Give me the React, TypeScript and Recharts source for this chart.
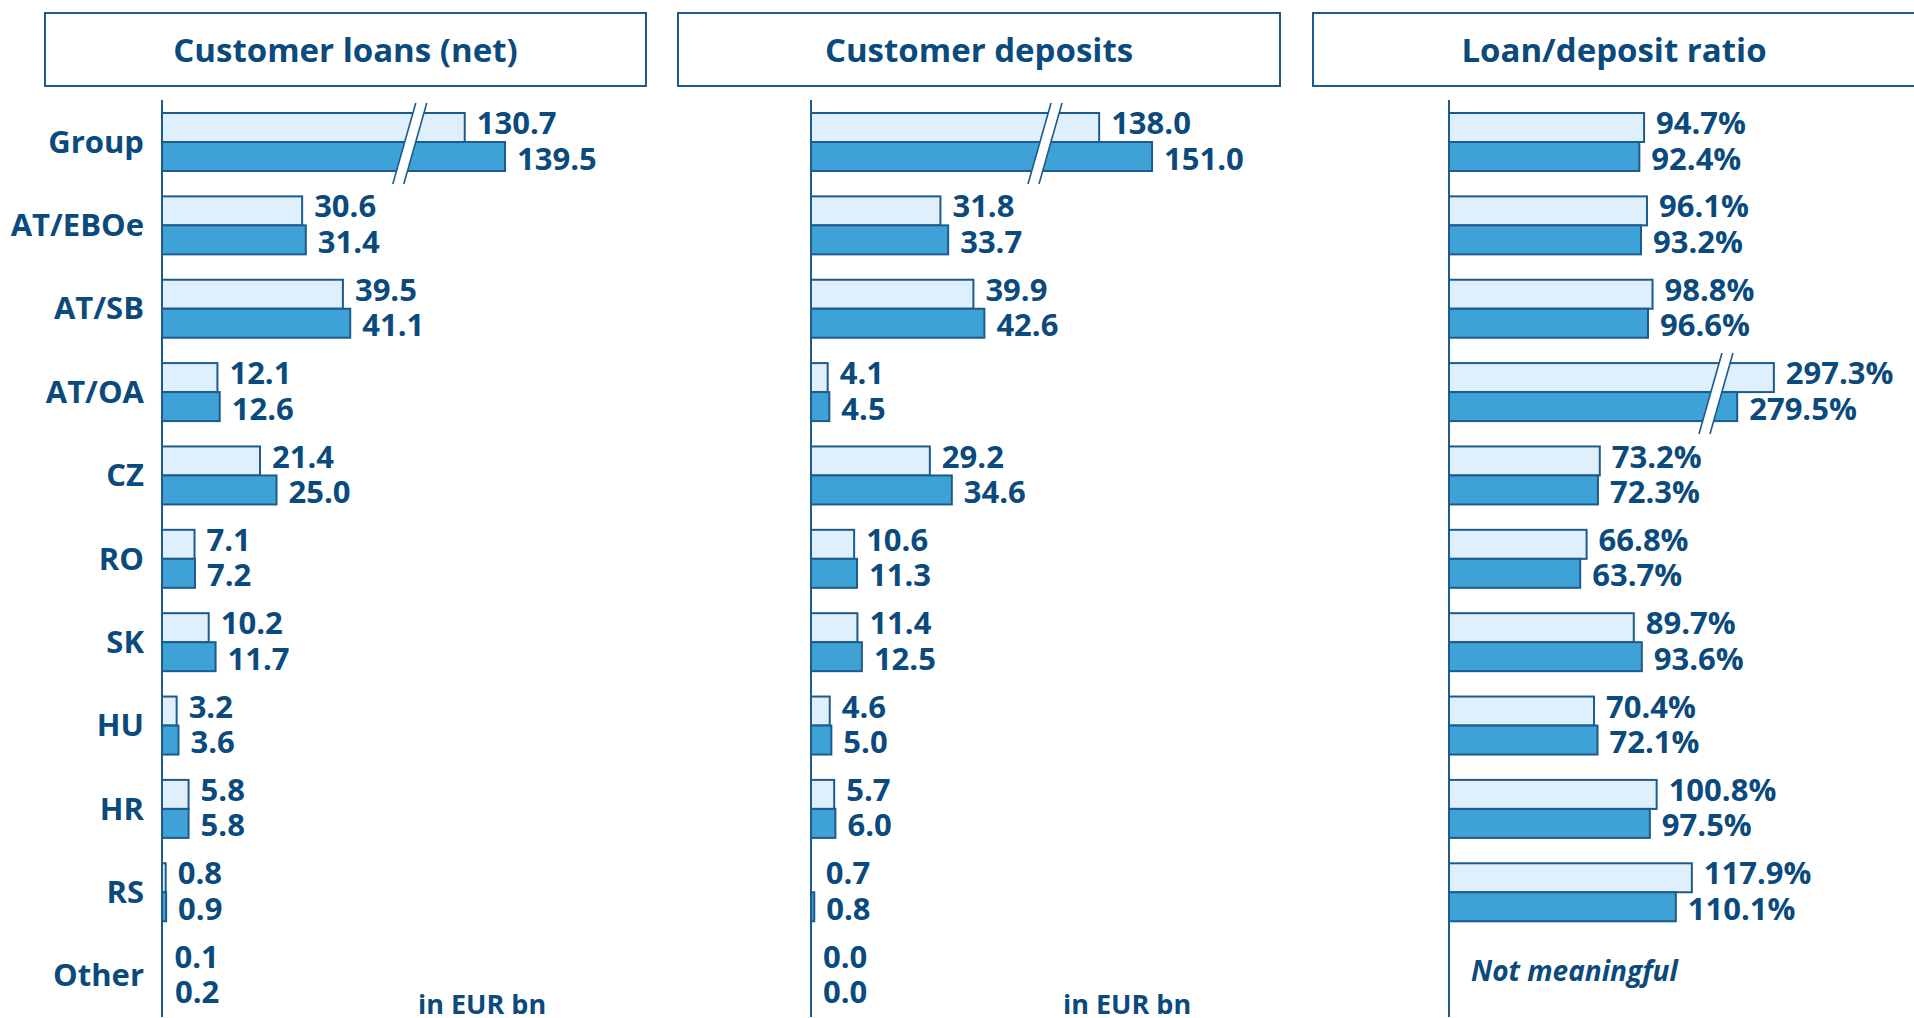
import React from 'react';
import { BarChart, Bar, XAxis, YAxis, LabelList, ReferenceLine } from 'recharts';

const categories = ['Group', 'AT/EBOe', 'AT/SB', 'AT/OA', 'CZ', 'RO', 'SK', 'HU', 'HR', 'RS', 'Other'];

const loansPrev = [130.7, 30.6, 39.5, 12.1, 21.4, 7.1, 10.2, 3.2, 5.8, 0.8, 0.1];
const loansCurr = [139.5, 31.4, 41.1, 12.6, 25.0, 7.2, 11.7, 3.6, 5.8, 0.9, 0.2];

const depositsPrev = [138.0, 31.8, 39.9, 4.1, 29.2, 10.6, 11.4, 4.6, 5.7, 0.7, 0.0];
const depositsCurr = [151.0, 33.7, 42.6, 4.5, 34.6, 11.3, 12.5, 5.0, 6.0, 0.8, 0.0];

const ratioPrev: (number | null)[] = [94.7, 96.1, 98.8, 297.3, 73.2, 66.8, 89.7, 70.4, 100.8, 117.9, null];
const ratioCurr: (number | null)[] = [92.4, 93.2, 96.6, 279.5, 72.3, 63.7, 93.6, 72.1, 97.5, 110.1, null];

const panelTitles = ['Customer loans (net)', 'Customer deposits', 'Loan/deposit ratio'];
const unitNote = 'in EUR bn';
const missingNote = 'Not meaningful';

const NAVY = '#0B4A7D';
const STROKE = '#1D5B8C';
const LIGHT = '#DFF0FC';
const DARK = '#3FA2D6';
const FONT = '"Open Sans", "Noto Sans", sans-serif';

type Row = {
  name: string;
  prev: number | null;
  curr: number | null;
  prevBar: number;
  currBar: number;
  broken: boolean;
};

const buildRows = (
  prev: (number | null)[],
  curr: (number | null)[],
  brokenCat: string,
  offset: number
): Row[] =>
  categories.map((name, i) => {
    const broken = name === brokenCat;
    const p = prev[i];
    const c = curr[i];
    return {
      name,
      prev: p,
      curr: c,
      prevBar: p == null ? 0 : broken ? p - offset : p,
      currBar: c == null ? 0 : broken ? c - offset : c,
      broken,
    };
  });

const loanRows = buildRows(loansPrev, loansCurr, 'Group', 64.6);
const depositRows = buildRows(depositsPrev, depositsCurr, 'Group', 67.2);
const ratioRows = buildRows(ratioPrev, ratioCurr, 'AT/OA', 139.6);

const makeShape = (breakAt: number | null, second: boolean) => (props: any) => {
  const { x, y, width, height, fill, payload } = props;
  if (!(width > 3)) return <g />;
  const rect = (
    <rect x={x} y={y} width={width} height={height} fill={fill} stroke={STROKE} strokeWidth={2} />
  );
  if (!second || !payload || !payload.broken || breakAt == null) return rect;
  const ppu = width / payload.currBar;
  const cx = x + breakAt * ppu;
  const top = y - height - 10;
  const bot = y + height + 13;
  const half = 11.5;
  const g = 5.5;
  const xt = cx + half;
  const xb = cx - half;
  return (
    <g>
      {rect}
      <polygon
        points={`${xt - g},${top} ${xt + g},${top} ${xb + g},${bot} ${xb - g},${bot}`}
        fill="#ffffff"
      />
      <line x1={xt - g} y1={top} x2={xb - g} y2={bot} stroke={STROKE} strokeWidth={1.6} />
      <line x1={xt + g} y1={top} x2={xb + g} y2={bot} stroke={STROKE} strokeWidth={1.6} />
    </g>
  );
};

const makeLabel = (rows: Row[], key: 'prev' | 'curr', dy: number, suffix: string) => (props: any) => {
  const vb = props.viewBox || {};
  const x = props.x ?? vb.x;
  const y = props.y ?? vb.y;
  const width = props.width ?? vb.width ?? 0;
  const height = props.height ?? vb.height ?? 0;
  const row = rows[props.index];
  if (!row) return null;
  const v = row[key];
  if (v == null) {
    if (key === 'curr') return null;
    return (
      <text
        x={x + 22}
        y={y + height / 2 + 10 + 0.357 * 28}
        fill={NAVY}
        fontFamily={FONT}
        fontWeight={700}
        fontStyle="italic"
        fontSize={28}
      >
        {missingNote}
      </text>
    );
  }
  return (
    <text
      x={x + width + 12}
      y={y + height / 2 + dy + 0.357 * 31}
      fill={NAVY}
      fontFamily={FONT}
      fontWeight={700}
      fontSize={31}
    >
      {v.toFixed(1) + suffix}
    </text>
  );
};

const CategoryTick = (props: any) => {
  const { x, y, payload } = props;
  return (
    <text
      x={x}
      y={y + 0.357 * 31}
      textAnchor="end"
      fill={NAVY}
      fontFamily={FONT}
      fontWeight={700}
      fontSize={31}
    >
      {payload.value}
    </text>
  );
};

type PanelProps = {
  rows: Row[];
  left: number;
  width: number;
  marginLeft: number;
  marginRight: number;
  max: number;
  breakAt: number;
  suffix: string;
  showCategories: boolean;
};

const Panel = ({ rows, left, width, marginLeft, marginRight, max, breakAt, suffix, showCategories }: PanelProps) => (
  <div style={{ position: 'absolute', left, top: 0 }}>
    <BarChart
      width={width}
      height={1018}
      data={rows}
      layout="vertical"
      margin={{ top: 100, right: marginRight, bottom: 1, left: marginLeft }}
      barGap={0}
      barSize={29}
    >
      <XAxis type="number" hide domain={[0, max]} allowDataOverflow />
      {showCategories ? (
        <YAxis
          type="category"
          dataKey="name"
          width={162 - marginLeft}
          tickLine={false}
          tickSize={0}
          tickMargin={18}
          axisLine={{ stroke: STROKE, strokeWidth: 2 }}
          tick={<CategoryTick />}
          interval={0}
        />
      ) : (
        <YAxis type="category" dataKey="name" hide />
      )}
      <Bar dataKey="prevBar" fill={LIGHT} isAnimationActive={false} shape={makeShape(breakAt, false)}>
        <LabelList dataKey="prevBar" content={makeLabel(rows, 'prev', -4.5, suffix)} />
      </Bar>
      <Bar dataKey="currBar" fill={DARK} isAnimationActive={false} shape={makeShape(breakAt, true)}>
        <LabelList dataKey="currBar" content={makeLabel(rows, 'curr', 2, suffix)} />
      </Bar>
      {!showCategories && <ReferenceLine x={0} stroke={STROKE} strokeWidth={2} />}
    </BarChart>
  </div>
);

const titleBoxes = [
  { left: 44, width: 603 },
  { left: 677, width: 604 },
  { left: 1312, width: 604 },
];

export default function App() {
  return (
    <div
      style={{
        position: 'absolute',
        left: 0,
        top: 0,
        width: 1914,
        height: 1018,
        background: '#ffffff',
        overflow: 'hidden',
        fontFamily: FONT,
      }}
    >
      {titleBoxes.map((b, i) => (
        <div
          key={i}
          style={{
            position: 'absolute',
            left: b.left,
            top: 12,
            width: b.width,
            height: 75,
            boxSizing: 'border-box',
            border: `2px solid ${STROKE}`,
            display: 'flex',
            alignItems: 'center',
            justifyContent: 'center',
            color: NAVY,
            fontWeight: 700,
            fontSize: 33,
            lineHeight: 1,
          }}
        >
          {panelTitles[i]}
        </div>
      ))}
      <Panel rows={loanRows} left={0} width={660} marginLeft={0} marginRight={40} max={100} breakAt={54.1} suffix="" showCategories />
      <Panel rows={depositRows} left={660} width={640} marginLeft={151} marginRight={82} max={100} breakAt={57.5} suffix="" showCategories={false} />
      <Panel rows={ratioRows} left={1300} width={614} marginLeft={149} marginRight={53} max={200} breakAt={129.6} suffix="%" showCategories={false} />
      {[{ left: 418 }, { left: 1063 }].map((p, i) => (
        <div
          key={i}
          style={{
            position: 'absolute',
            left: p.left,
            top: 990,
            height: 27,
            fontSize: 27,
            lineHeight: '27px',
            fontWeight: 700,
            color: NAVY,
            whiteSpace: 'nowrap',
          }}
        >
          {unitNote}
        </div>
      ))}
    </div>
  );
}
